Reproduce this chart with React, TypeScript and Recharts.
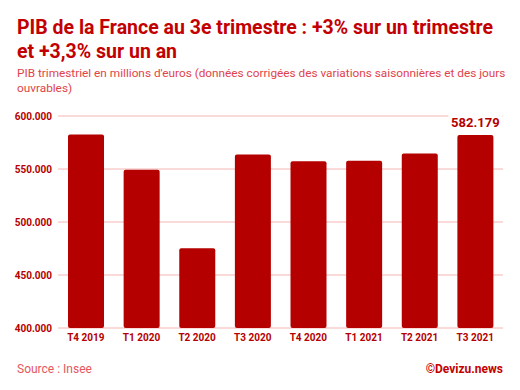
import React from "react";
import { Bar, BarChart, CartesianGrid, LabelList, XAxis, YAxis } from "recharts";

const quarters = ["T4 2019", "T1 2020", "T2 2020", "T3 2020", "T4 2020", "T1 2021", "T2 2021", "T3 2021"];
// PIB trimestriel, en milliers de millions d'euros (582.179 = 582 179 M€)
const pib = [582.6, 549.2, 475.3, 563.7, 557.2, 557.7, 564.6, 582.179];
const yTicks = [400, 450, 500, 550, 600];

const data = quarters.map((q, i) => ({ q, pib: pib[i] }));

const DARK = "#b50000";
const LIGHT = "#e2434a";

const LastLabel = (props: any) => {
  const { x, y, width, index, value } = props;
  if (index !== pib.length - 1) return null;
  const cx = x + width / 2;
  return (
    <g>
      <rect x={cx - 27} y={y - 22} width={54} height={18} fill="#fff" />
      <text x={cx} y={y - 8} textAnchor="middle" fill={DARK} fontSize={13} fontWeight={700} fontFamily="Roboto">
        {Number(value).toFixed(3)}
      </text>
    </g>
  );
};

export default function App() {
  return (
    <div style={{ position: "absolute", left: 0, top: 0, width: 520, height: 390, background: "#fff", fontFamily: "Roboto", overflow: "hidden" }}>
      <div style={{ position: "absolute", left: 17, top: 16, width: 510, color: "#c20000", fontSize: 19.5, fontWeight: 700, lineHeight: "24px", whiteSpace: "nowrap" }}>
        PIB de la France au 3e trimestre : +3% sur un trimestre
        <br />
        et +3,3% sur un an
      </div>
      <div style={{ position: "absolute", left: 17, top: 66, width: 505, color: LIGHT, fontSize: 11.8, lineHeight: "15px", whiteSpace: "nowrap" }}>
        PIB trimestriel en millions d'euros (données corrigées des variations saisonnières et des jours
        <br />
        ouvrables)
      </div>
      <div style={{ position: "absolute", left: 0, top: 100 }}>
        <BarChart width={520} height={260} data={data} margin={{ top: 16, right: 17, bottom: 10, left: 0 }} barCategoryGap="18%">
          <CartesianGrid vertical={false} stroke="#f6b4b4" strokeWidth={1} />
          <XAxis
            dataKey="q"
            axisLine={false}
            tickLine={false}
            tickSize={0}
            tickMargin={6}
            height={22}
            interval={0}
            tick={{ fill: DARK, fontSize: 10, fontWeight: 700, fontFamily: "Roboto" }}
          />
          <YAxis
            domain={[400, 600]}
            ticks={yTicks}
            allowDataOverflow
            axisLine={false}
            tickLine={false}
            tickSize={0}
            tickMargin={6}
            width={58}
            tickFormatter={(v: number) => `${v}.000`}
            tick={{ fill: DARK, fontSize: 10, fontWeight: 700, fontFamily: "Roboto" }}
          />
          <Bar dataKey="pib" fill={DARK} radius={[2, 2, 2, 2]} isAnimationActive={false}>
            <LabelList dataKey="pib" content={<LastLabel />} />
          </Bar>
        </BarChart>
      </div>
      <div style={{ position: "absolute", left: 17, top: 362, color: "#e4575c", fontSize: 12 }}>Source : Insee</div>
      <div style={{ position: "absolute", right: 17, top: 362, color: "#c20000", fontSize: 12, fontWeight: 700 }}>©Devizu.news</div>
    </div>
  );
}
